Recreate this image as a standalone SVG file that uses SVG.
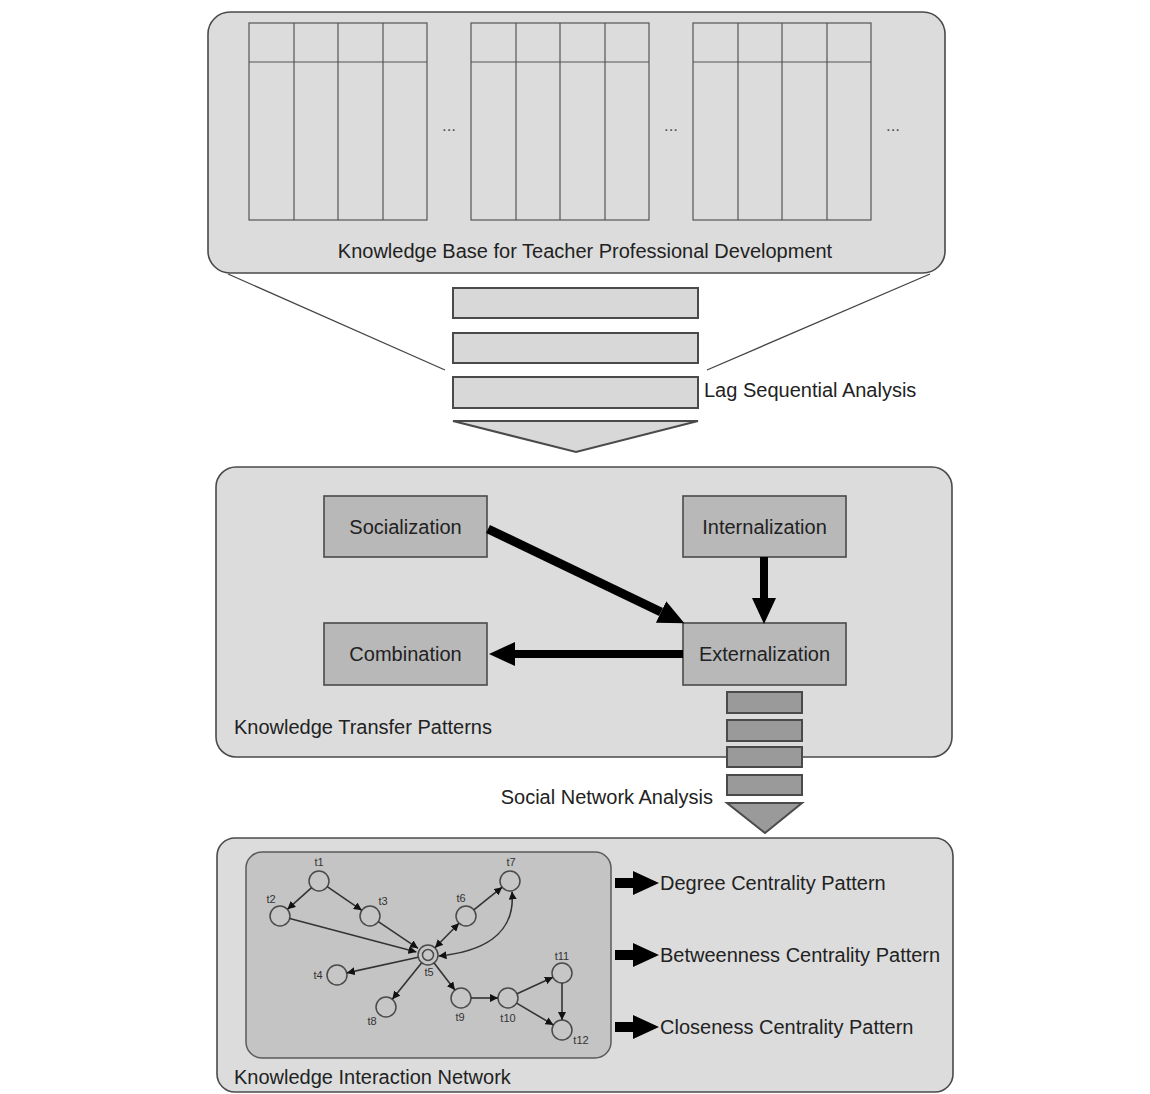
<svg xmlns="http://www.w3.org/2000/svg" width="1150" height="1094" viewBox="0 0 1150 1094">
<style>
.panel{fill:#dcdcdc;stroke:#4a4a4a;stroke-width:1.6}
.tbl{fill:none;stroke:#555;stroke-width:1.2}
.bar{fill:#d8d8d8;stroke:#4a4a4a;stroke-width:2}
.bar2{fill:#9a9a9a;stroke:#4a4a4a;stroke-width:2}
.box{fill:#b8b8b8;stroke:#4a4a4a;stroke-width:1.6}
.t{font-family:"Liberation Sans",Arial,sans-serif;font-size:20px;fill:#222}
.c{text-anchor:middle}
.dots{font-family:"Liberation Sans",Arial,sans-serif;font-size:17px;fill:#555;text-anchor:middle}
.nl{font-family:"Liberation Sans",Arial,sans-serif;font-size:11px;fill:#333;text-anchor:middle}
.node{fill:#c6c6c6;stroke:#4a4a4a;stroke-width:1.5}
.edge{fill:none;stroke:#333;stroke-width:1.6}
.thick{stroke:#000;stroke-width:8;fill:none}
.thin{stroke:#444;stroke-width:1.3;fill:none}
</style>
<defs>
<marker id="big" viewBox="0 0 26 24" markerWidth="26" markerHeight="24" refX="0" refY="12" orient="auto" markerUnits="userSpaceOnUse">
<path d="M0,0 L26,12 L0,24 z" fill="#000"/>
</marker>
<marker id="sm" viewBox="0 0 10 10" markerWidth="8" markerHeight="8" refX="10" refY="5" orient="auto-start-reverse" markerUnits="userSpaceOnUse">
<path d="M0,0 L10,5 L0,10 z" fill="#111"/>
</marker>
</defs>

<g id="knowledge-base">
<rect class="panel" x="208" y="12" width="737" height="261" rx="22"/>
<g id="table1" class="tbl">
<rect x="249" y="23" width="178" height="197"/>
<line x1="249" y1="62" x2="427" y2="62"/>
<line x1="294" y1="23" x2="294" y2="220"/>
<line x1="338" y1="23" x2="338" y2="220"/>
<line x1="383" y1="23" x2="383" y2="220"/>
</g>
<g id="table2" class="tbl">
<rect x="471" y="23" width="178" height="197"/>
<line x1="471" y1="62" x2="649" y2="62"/>
<line x1="516" y1="23" x2="516" y2="220"/>
<line x1="560" y1="23" x2="560" y2="220"/>
<line x1="605" y1="23" x2="605" y2="220"/>
</g>
<g id="table3" class="tbl">
<rect x="693" y="23" width="178" height="197"/>
<line x1="693" y1="62" x2="871" y2="62"/>
<line x1="738" y1="23" x2="738" y2="220"/>
<line x1="782" y1="23" x2="782" y2="220"/>
<line x1="827" y1="23" x2="827" y2="220"/>
</g>
<text class="dots" x="449" y="131">...</text>
<text class="dots" x="671" y="131">...</text>
<text class="dots" x="893" y="131">...</text>
<text class="t c" x="585" y="258">Knowledge Base for Teacher Professional Development</text>
</g>

<g id="lag-sequential">
<line class="thin" x1="228" y1="274" x2="445" y2="370"/>
<line class="thin" x1="930" y1="274" x2="707" y2="370"/>
<rect class="bar" x="453" y="288" width="245" height="30"/>
<rect class="bar" x="453" y="333" width="245" height="30"/>
<rect class="bar" x="453" y="377" width="245" height="31"/>
<polygon class="bar" points="453,421 698,421 576,452"/>
<text class="t" x="704" y="397">Lag Sequential Analysis</text>
</g>

<g id="transfer-patterns">
<rect class="panel" x="216" y="467" width="736" height="290" rx="20"/>
<text class="t" x="234" y="734">Knowledge Transfer Patterns</text>
</g>
<g id="socialization">
<rect class="box" x="324" y="496" width="163" height="61"/>
<text class="t c" x="405.5" y="534">Socialization</text>
</g>
<g id="internalization">
<rect class="box" x="683" y="496" width="163" height="61"/>
<text class="t c" x="764.5" y="534">Internalization</text>
</g>
<g id="combination">
<rect class="box" x="324" y="623" width="163" height="62"/>
<text class="t c" x="405.5" y="661">Combination</text>
</g>
<g id="externalization">
<rect class="box" x="683" y="623" width="163" height="62"/>
<text class="t c" x="764.5" y="661">Externalization</text>
</g>

<g id="social-network">
<rect class="bar2" x="727" y="692" width="75" height="21"/>
<rect class="bar2" x="727" y="720" width="75" height="21"/>
<rect class="bar2" x="727" y="747" width="75" height="20"/>
<rect class="bar2" x="727" y="775" width="75" height="20"/>
<polygon class="bar2" points="727,803 802,803 765,833"/>
<text class="t" x="713" y="804" text-anchor="end">Social Network Analysis</text>
</g>

<g id="interaction-network">
<rect class="panel" x="217" y="838" width="736" height="254" rx="18"/>
<rect x="246" y="852" width="365" height="206" rx="16" fill="#c4c4c4" stroke="#5a5a5a" stroke-width="1.5"/>
<text class="t" x="234" y="1084">Knowledge Interaction Network</text>
</g>

<g id="nodes">
<g id="t1"><circle class="node" cx="319" cy="881" r="10"/><text class="nl" x="319" y="866">t1</text></g>
<g id="t2"><circle class="node" cx="280" cy="916" r="10"/><text class="nl" x="271" y="903">t2</text></g>
<g id="t3"><circle class="node" cx="370" cy="916" r="10"/><text class="nl" x="383" y="905">t3</text></g>
<g id="t4"><circle class="node" cx="337" cy="975" r="10"/><text class="nl" x="318" y="979">t4</text></g>
<g id="t5"><circle class="node" cx="428" cy="955" r="10"/><circle class="node" cx="428" cy="955" r="5.5"/><text class="nl" x="429" y="976">t5</text></g>
<g id="t6"><circle class="node" cx="466" cy="916" r="10"/><text class="nl" x="461" y="902">t6</text></g>
<g id="t7"><circle class="node" cx="510" cy="881" r="10"/><text class="nl" x="511" y="866">t7</text></g>
<g id="t8"><circle class="node" cx="386" cy="1007" r="10"/><text class="nl" x="372" y="1025">t8</text></g>
<g id="t9"><circle class="node" cx="461" cy="998" r="10"/><text class="nl" x="460" y="1021">t9</text></g>
<g id="t10"><circle class="node" cx="508" cy="998" r="10"/><text class="nl" x="508" y="1022">t10</text></g>
<g id="t11"><circle class="node" cx="562" cy="973" r="10"/><text class="nl" x="562" y="960">t11</text></g>
<g id="t12"><circle class="node" cx="562" cy="1030" r="10"/><text class="nl" x="581" y="1044">t12</text></g>
</g>

<g id="results">
<text class="t" x="660" y="890">Degree Centrality Pattern</text>
<text class="t" x="660" y="962">Betweenness Centrality Pattern</text>
<text class="t" x="660" y="1034">Closeness Centrality Pattern</text>
</g>

<g id="connectors">
<line class="thick" x1="488" y1="529" x2="661" y2="612" style="stroke-width:9" marker-end="url(#big)"/>
<line class="thick" x1="764" y1="557" x2="764" y2="598" marker-end="url(#big)"/>
<line class="thick" x1="683" y1="654" x2="515" y2="654" marker-end="url(#big)"/>
<line class="thick" x1="615" y1="883" x2="633" y2="883" style="stroke-width:10" marker-end="url(#big)"/>
<line class="thick" x1="615" y1="955" x2="633" y2="955" style="stroke-width:10" marker-end="url(#big)"/>
<line class="thick" x1="615" y1="1027" x2="633" y2="1027" style="stroke-width:10" marker-end="url(#big)"/>
<line class="edge" x1="311.6" y1="887.7" x2="287.4" y2="909.3" marker-end="url(#sm)"/>
<line class="edge" x1="327.2" y1="886.7" x2="361.8" y2="910.3" marker-end="url(#sm)"/>
<line class="edge" x1="289.7" y1="918.5" x2="416.4" y2="951.9" marker-end="url(#sm)"/>
<line class="edge" x1="378.3" y1="921.6" x2="418" y2="948.3" marker-end="url(#sm)"/>
<line class="edge" x1="418.2" y1="957.2" x2="346.8" y2="972.9" marker-end="url(#sm)"/>
<line class="edge" x1="421.7" y1="962.8" x2="392.3" y2="999.2" marker-end="url(#sm)"/>
<line class="edge" x1="434.1" y1="962.9" x2="454.9" y2="990.1" marker-end="url(#sm)"/>
<line class="edge" x1="435" y1="947.8" x2="459" y2="923.2" marker-start="url(#sm)" marker-end="url(#sm)"/>
<line class="edge" x1="473.8" y1="909.8" x2="502.2" y2="887.2" marker-end="url(#sm)"/>
<path class="edge" d="M438.5,956 C480,952 516,936 512,891.5" marker-start="url(#sm)" marker-end="url(#sm)"/>
<line class="edge" x1="471" y1="998" x2="498" y2="998" marker-end="url(#sm)"/>
<line class="edge" x1="517.1" y1="993.8" x2="552.9" y2="977.2" marker-end="url(#sm)"/>
<line class="edge" x1="516.6" y1="1003.1" x2="553.4" y2="1024.9" marker-end="url(#sm)"/>
<line class="edge" x1="562" y1="983" x2="562" y2="1020" marker-end="url(#sm)"/>
</g>
</svg>
